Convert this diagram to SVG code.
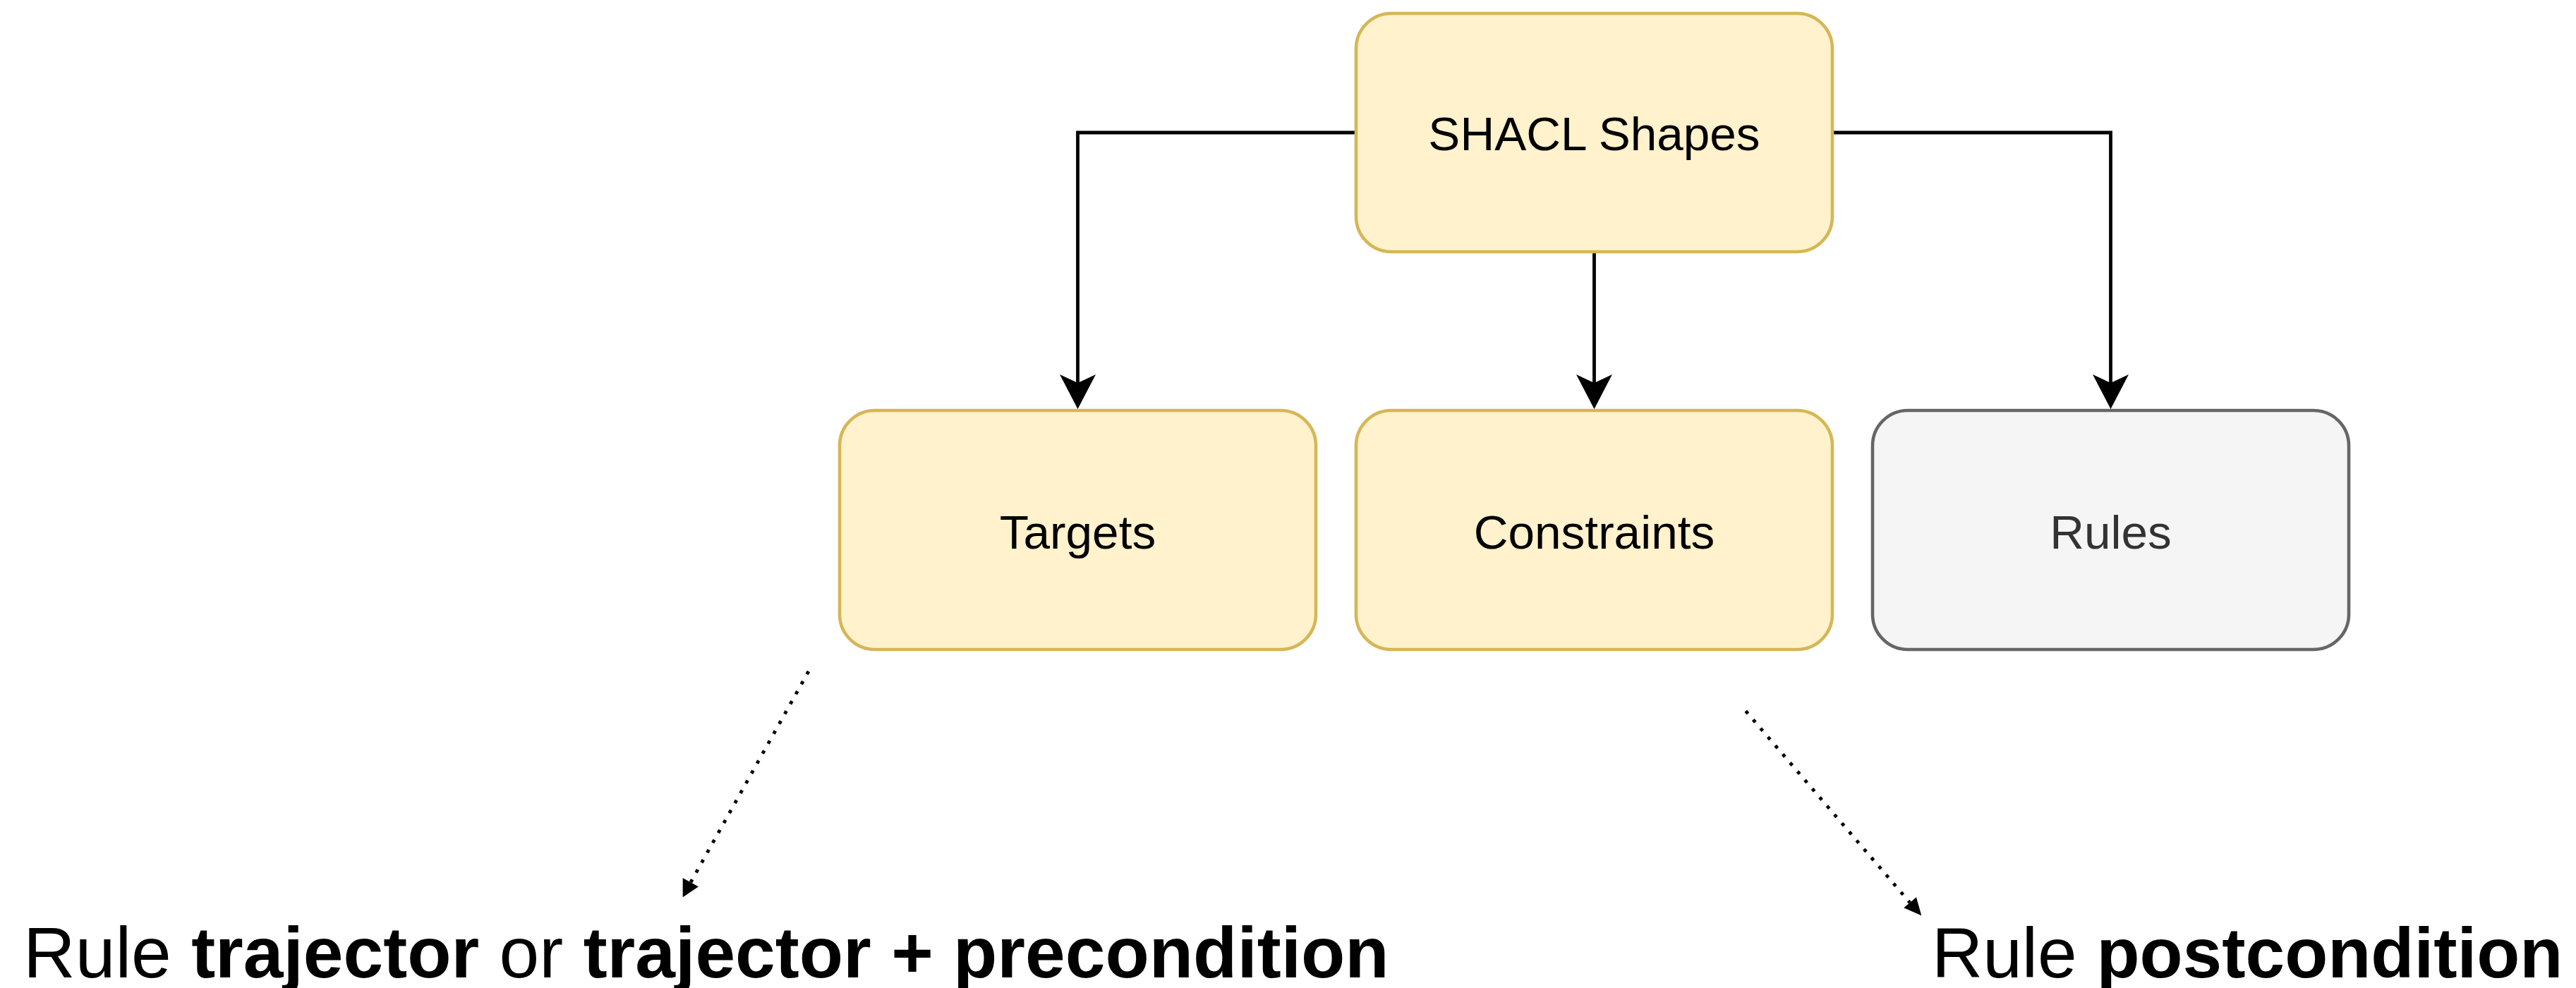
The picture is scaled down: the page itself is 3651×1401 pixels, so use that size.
<svg xmlns="http://www.w3.org/2000/svg" width="3651" height="1401" viewBox="0 0 3651 1401">
<style>
.box{stroke-width:4.6}
.yellow{fill:#fff2cc;stroke:#d6b656}
.grey{fill:#f5f5f5;stroke:#666666}
.lbl{font-family:"Liberation Sans",Arial,Helvetica,sans-serif;font-size:67.5px;text-anchor:middle;fill:#000}
.conn{fill:none;stroke:#000;stroke-width:4.8}
.dot{fill:none;stroke:#000;stroke-width:4.8;stroke-dasharray:4.8 11.3}
.head{fill:#000;stroke:none}
.big{font-family:"Liberation Sans",Arial,Helvetica,sans-serif;fill:#000}
</style>
<rect width="3651" height="1401" fill="#ffffff"/>
<g id="connectors">
  <path class="conn" d="M1922,188 H1527.5 V545"/>
  <path class="head" d="M1527.5,580 L1502,531 L1527.5,543 L1553,531 Z"/>
  <path class="conn" d="M2259.5,357 V545"/>
  <path class="head" d="M2259.5,580 L2234,531 L2259.5,543 L2285,531 Z"/>
  <path class="conn" d="M2597,188 H2991.5 V545"/>
  <path class="head" d="M2991.5,580 L2966,531 L2991.5,543 L3017,531 Z"/>
  <path class="dot" d="M1146,952 L979,1251"/>
  <path class="head" d="M967.7,1272.3 L967.7,1245 L990,1257.3 Z"/>
  <path class="dot" d="M2474.3,1008.3 L2707,1280"/>
  <path class="head" d="M2723.3,1298.3 L2698.3,1287.3 L2716,1272.3 Z"/>
</g>
<g id="node-shacl-shapes">
  <rect class="box yellow" x="1922" y="19" width="675" height="338" rx="50" ry="50"/>
  <text class="lbl" x="2259.5" y="213">SHACL Shapes</text>
</g>
<g id="node-targets">
  <rect class="box yellow" x="1190" y="582" width="675" height="339" rx="50" ry="50"/>
  <text class="lbl" x="1527.5" y="777.5">Targets</text>
</g>
<g id="node-constraints">
  <rect class="box yellow" x="1922" y="582" width="675" height="339" rx="50" ry="50"/>
  <text class="lbl" x="2259.5" y="777.5">Constraints</text>
</g>
<g id="node-rules">
  <rect class="box grey" x="2654" y="582" width="675" height="339" rx="50" ry="50"/>
  <text class="lbl" x="2991.5" y="777.5" style="fill:#333333">Rules</text>
</g>
<g id="label-trajector">
  <text class="big" x="33" y="1385.7" font-size="102">Rule <tspan font-weight="bold">trajector</tspan> or <tspan font-weight="bold">trajector + precondition</tspan></text>
</g>
<g id="label-postcondition">
  <text class="big" x="2738" y="1385.7" font-size="100">Rule <tspan font-weight="bold">postcondition</tspan></text>
</g>
</svg>
